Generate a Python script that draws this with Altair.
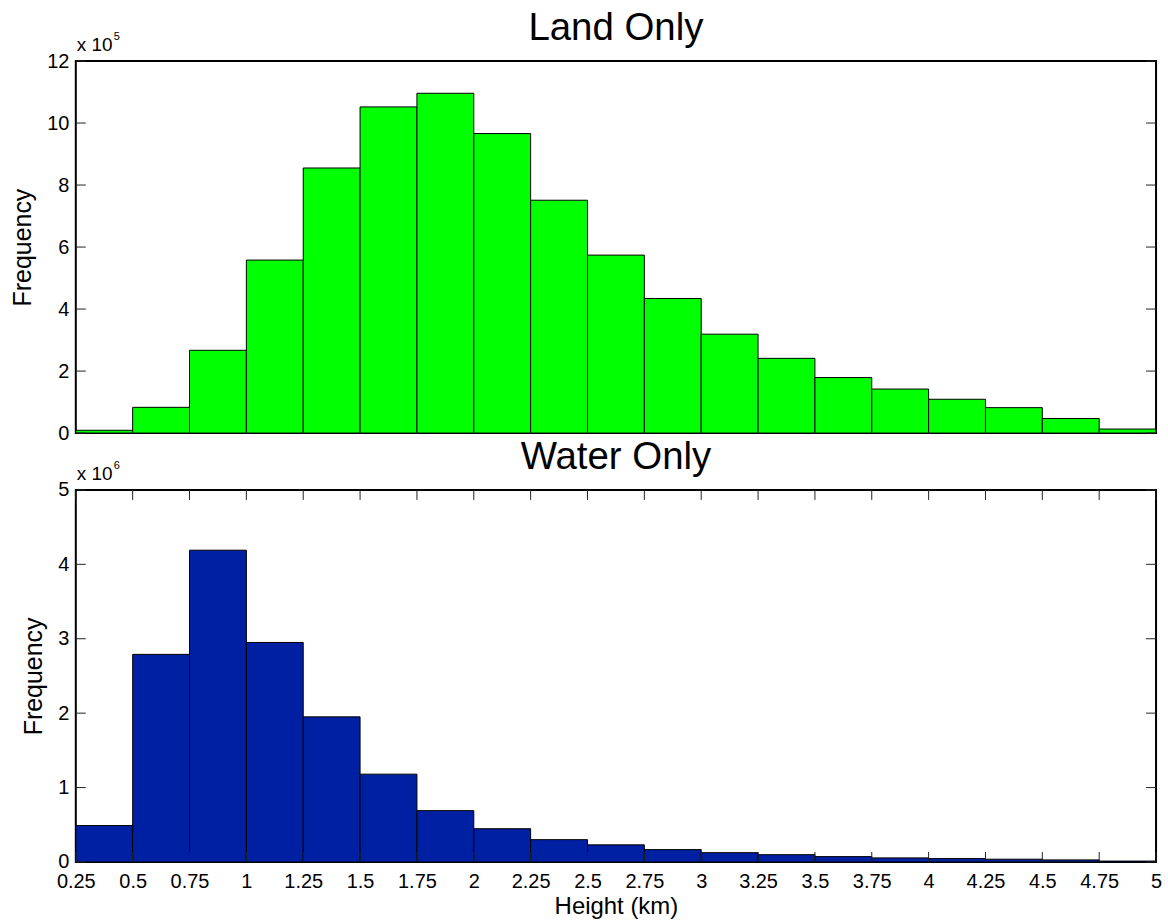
import altair as alt
import pandas as pd

# ---- data ----
bin_start = [0.25, 0.5, 0.75, 1.0, 1.25, 1.5, 1.75, 2.0, 2.25, 2.5,
             2.75, 3.0, 3.25, 3.5, 3.75, 4.0, 4.25, 4.5, 4.75]
bin_end = [0.5, 0.75, 1.0, 1.25, 1.5, 1.75, 2.0, 2.25, 2.5, 2.75,
           3.0, 3.25, 3.5, 3.75, 4.0, 4.25, 4.5, 4.75, 5.0]
land_freq = [9000, 83000, 267000, 558000, 855000, 1052000, 1096000, 966000, 751000, 574000,
             434000, 319000, 241000, 179000, 142000, 109000, 82000, 47000, 13000]
water_freq = [490000, 2790000, 4190000, 2950000, 1950000, 1180000, 690000, 447000, 300000, 230000,
              166000, 125000, 98000, 72000, 55000, 45000, 37000, 28000, 12000]
x_ticks = [0.25, 0.5, 0.75, 1, 1.25, 1.5, 1.75, 2, 2.25, 2.5, 2.75, 3,
           3.25, 3.5, 3.75, 4, 4.25, 4.5, 4.75, 5]
land_y_ticks = [0, 200000, 400000, 600000, 800000, 1000000, 1200000]
water_y_ticks = [0, 1000000, 2000000, 3000000, 4000000, 5000000]

W, H = 1083, 373
FONT = "Liberation Sans"
TICK = 10


def panel(freq, color, yticks, ydiv, expo, title, show_x):
    df = pd.DataFrame({"start": bin_start, "end": bin_end, "freq": freq})
    xs = alt.Scale(domain=[0.25, 5], nice=False, zero=False)
    ys = alt.Scale(domain=[0, yticks[-1]], nice=False)
    yaxis = alt.Axis(values=yticks, labelExpr=f"'' + (datum.value / {ydiv})",
                     title="Frequency", ticks=False, tickSize=0, domain=False,
                     grid=False, labelPadding=7, titlePadding=11, titleFontSize=25,
                     labelFlush=False, labelOverlap=False)
    xaxis = alt.Axis(values=x_ticks, labelExpr="'' + datum.value", ticks=False, tickSize=0,
                     domain=False, grid=False, labelPadding=10, title="Height (km)",
                     titlePadding=3, titleFontSize=24, labelFlush=False, labelOverlap=False)
    xenc = alt.X("start:Q", scale=xs, axis=xaxis if show_x else None)
    bars = alt.Chart(df).mark_bar(color=color, stroke="black", strokeWidth=1).encode(
        x=xenc,
        x2="end:Q",
        y=alt.Y("freq:Q", scale=ys, axis=yaxis),
        y2=alt.datum(0),
    )
    ydf = pd.DataFrame({"freq": yticks})
    yl = alt.Chart(ydf).mark_rule(color="#222222", strokeWidth=1).encode(
        y=alt.Y("freq:Q", scale=ys, axis=yaxis), x=alt.value(0), x2=alt.value(TICK))
    yr = alt.Chart(ydf).mark_rule(color="#222222", strokeWidth=1).encode(
        y=alt.Y("freq:Q", scale=ys, axis=yaxis), x=alt.value(W - TICK), x2=alt.value(W))
    layers = [bars, yl, yr]
    if show_x:
        xdf = pd.DataFrame({"start": x_ticks})
        xb = alt.Chart(xdf).mark_rule(color="#222222", strokeWidth=1).encode(
            x=alt.X("start:Q", scale=xs, axis=xaxis), y=alt.value(H - TICK), y2=alt.value(H))
        xt = alt.Chart(xdf).mark_rule(color="#222222", strokeWidth=1).encode(
            x=alt.X("start:Q", scale=xs, axis=xaxis), y=alt.value(0), y2=alt.value(TICK))
        layers += [xb, xt]
    tdf = pd.DataFrame({"t": [title]})
    ttl = alt.Chart(tdf).mark_text(font=FONT, fontSize=38.5, align="center", baseline="alphabetic",
                                   color="black").encode(
        text="t:N", x=alt.value(W / 2), y=alt.value(-21))
    mdf = pd.DataFrame({"t": ["x 10"]})
    mult = alt.Chart(mdf).mark_text(font=FONT, fontSize=19, align="left", baseline="alphabetic",
                                    color="black").encode(
        text="t:N", x=alt.value(1), y=alt.value(-10))
    edf = pd.DataFrame({"t": [expo]})
    ex = alt.Chart(edf).mark_text(font=FONT, fontSize=11, align="left", baseline="alphabetic",
                                  color="black").encode(
        text="t:N", x=alt.value(38), y=alt.value(-21))
    layers += [ttl, mult, ex]
    return alt.layer(*layers).properties(width=W, height=H)


top = panel(land_freq, "#00FF00", land_y_ticks, 100000, "5", "Land Only", False)
bottom = panel(water_freq, "#0020A3", water_y_ticks, 1000000, "6", "Water Only", True)

chart = alt.vconcat(top, bottom, spacing=-7).properties(
    padding={"left": 9, "top": 7, "right": 5, "bottom": 0}
).configure_view(stroke="black", strokeWidth=2).configure_axis(
    labelFont=FONT, titleFont=FONT, labelFontSize=20, titleFontSize=24,
    labelColor="black", titleColor="black", titleFontWeight="normal"
)

chart.save("out.html", embed_options={"renderer": "svg", "actions": False})
